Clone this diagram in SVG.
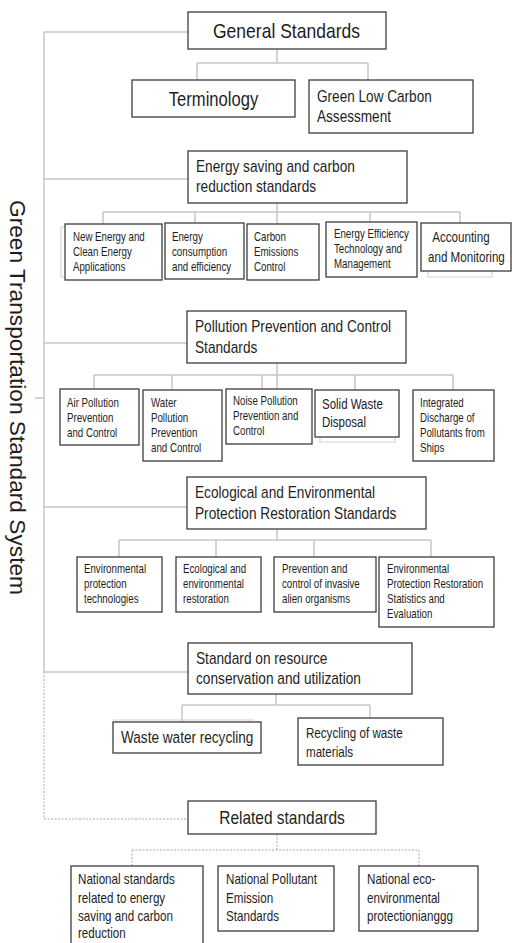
<svg xmlns="http://www.w3.org/2000/svg" width="512" height="943" viewBox="0 0 512 943">
<style>
.box{fill:#fff;stroke:#3c3c3c;stroke-width:1.3}
.conn{fill:none;stroke:#c6c6c6;stroke-width:1.5}
.dot{stroke-dasharray:2 1.5}
.faint{fill:none;stroke:#d4d4d4;stroke-width:1.2}
text{font-family:"Liberation Sans",Arial,sans-serif;fill:#1e1e1e}
.c{text-anchor:middle}
.s12{font-size:12px}.s14{font-size:14px}.s16{font-size:16px}
</style>
<rect width="512" height="943" fill="#fff"/>
<g id="connectors">
<path class="conn" d="M44,32V672M44,32H188M44,179H188M44,343H187M44,507H187M44,672H188M35,398H44"/>
<path class="conn dot" d="M44,672V819H188"/>
<path class="conn" d="M277,49V63M197,63H368M197,63V80M368,63V80"/>
<path class="conn" d="M277,203V224M103,212H460M103,212V224M195,212V223M370,212V222M460,212V223"/>
<path class="conn" d="M277,363V389M94,375H453M94,375V389M172,375V390M262,375V389M355,375V390M453,375V390"/>
<path class="conn" d="M277,529V540M119,540H431M119,540V557M216,540V557M314,540V557M431,540V557"/>
<path class="conn" d="M276,694V705M182,705H370M182,705V722M370,705V718"/>
<path class="conn dot" d="M277,834V850M132,850H419M132,850V866M419,850V866"/>
<path class="faint" d="M65,227H61V277H65M428,271V277H492V271M320,437V442H395V437M113,720H254"/>
</g>
<g id="title">
<text transform="translate(10,200) rotate(90)" font-size="22" textLength="395" lengthAdjust="spacingAndGlyphs">Green Transportation Standard System</text>
</g>
<g id="general">
<rect class="box" x="188" y="12" width="198" height="37"/>
<text class="c" font-size="20" transform="matrix(0.876 0 0 1 286.5 38)">General Standards</text>
</g>
<g id="terminology">
<rect class="box" x="132" y="80" width="163" height="37"/>
<text class="c" font-size="20" transform="matrix(0.83 0 0 1 213.5 106)">Terminology</text>
</g>
<g id="greenlowcarbon">
<rect class="box" x="309" y="80" width="164" height="53"/>
<text class="s16" transform="matrix(0.85 0 0 1 317 102)"><tspan x="0">Green Low Carbon</tspan><tspan x="0" dy="20">Assessment</tspan></text>
</g>
<g id="energy">
<rect class="box" x="188" y="151" width="219" height="52"/>
<text class="s16" transform="matrix(0.855 0 0 1 196 172)"><tspan x="0">Energy saving and carbon</tspan><tspan x="0" dy="20.5">reduction standards</tspan></text>
</g>
<g id="newenergy">
<rect class="box" x="65" y="224" width="97" height="56"/>
<text class="s12" transform="matrix(0.81 0 0 1 73 241)"><tspan x="0">New Energy and</tspan><tspan x="0" dy="15">Clean Energy</tspan><tspan x="0" dy="15">Applications</tspan></text>
</g>
<g id="consumption">
<rect class="box" x="165" y="223" width="79" height="56"/>
<text class="s12" transform="matrix(0.81 0 0 1 172 240.7)"><tspan x="0">Energy</tspan><tspan x="0" dy="15">consumption</tspan><tspan x="0" dy="15">and efficiency</tspan></text>
</g>
<g id="carbonemissions">
<rect class="box" x="247" y="224" width="72" height="56"/>
<text class="s12" transform="matrix(0.81 0 0 1 254 241)"><tspan x="0">Carbon</tspan><tspan x="0" dy="15">Emissions</tspan><tspan x="0" dy="15">Control</tspan></text>
</g>
<g id="efficiency">
<rect class="box" x="326" y="222" width="91" height="55"/>
<text class="s12" transform="matrix(0.81 0 0 1 334 238.3)"><tspan x="0">Energy Efficiency</tspan><tspan x="0" dy="15">Technology and</tspan><tspan x="0" dy="15">Management</tspan></text>
</g>
<g id="accounting">
<rect class="box" x="421" y="223" width="90" height="48"/>
<text class="s14" transform="matrix(0.83 0 0 1 428 241.7)"><tspan x="5">Accounting</tspan><tspan x="0" dy="20">and Monitoring</tspan></text>
</g>
<g id="pollution">
<rect class="box" x="187" y="311" width="219" height="52"/>
<text class="s16" transform="matrix(0.855 0 0 1 195 331.7)"><tspan x="0">Pollution Prevention and Control</tspan><tspan x="0" dy="21.6">Standards</tspan></text>
</g>
<g id="air">
<rect class="box" x="60" y="389" width="79" height="56"/>
<text class="s12" transform="matrix(0.81 0 0 1 67 406.7)"><tspan x="0">Air Pollution</tspan><tspan x="0" dy="15">Prevention</tspan><tspan x="0" dy="15">and Control</tspan></text>
</g>
<g id="water">
<rect class="box" x="143" y="390" width="79" height="71"/>
<text class="s12" transform="matrix(0.81 0 0 1 151 406.7)"><tspan x="0">Water</tspan><tspan x="0" dy="15">Pollution</tspan><tspan x="0" dy="15">Prevention</tspan><tspan x="0" dy="15">and Control</tspan></text>
</g>
<g id="noise">
<rect class="box" x="226" y="389" width="86" height="55"/>
<text class="s12" transform="matrix(0.81 0 0 1 233 405)"><tspan x="0">Noise Pollution</tspan><tspan x="0" dy="15">Prevention and</tspan><tspan x="0" dy="15">Control</tspan></text>
</g>
<g id="solidwaste">
<rect class="box" x="315" y="390" width="84" height="47"/>
<text class="s14" transform="matrix(0.82 0 0 1 322 409)"><tspan x="0">Solid Waste</tspan><tspan x="0" dy="18.3">Disposal</tspan></text>
</g>
<g id="ships">
<rect class="box" x="413" y="390" width="81" height="71"/>
<text class="s12" transform="matrix(0.81 0 0 1 420 406.7)"><tspan x="0">Integrated</tspan><tspan x="0" dy="15">Discharge of</tspan><tspan x="0" dy="15">Pollutants from</tspan><tspan x="0" dy="15">Ships</tspan></text>
</g>
<g id="ecological">
<rect class="box" x="187" y="477" width="239" height="52"/>
<text class="s16" transform="matrix(0.855 0 0 1 195 498.3)"><tspan x="0">Ecological and Environmental</tspan><tspan x="0" dy="21">Protection Restoration Standards</tspan></text>
</g>
<g id="envtech">
<rect class="box" x="77" y="557" width="85" height="55"/>
<text class="s12" transform="matrix(0.81 0 0 1 84 573)"><tspan x="0">Environmental</tspan><tspan x="0" dy="15">protection</tspan><tspan x="0" dy="15">technologies</tspan></text>
</g>
<g id="ecorestoration">
<rect class="box" x="176" y="557" width="85" height="55"/>
<text class="s12" transform="matrix(0.81 0 0 1 183 573)"><tspan x="0">Ecological and</tspan><tspan x="0" dy="15">environmental</tspan><tspan x="0" dy="15">restoration</tspan></text>
</g>
<g id="invasive">
<rect class="box" x="274" y="557" width="102" height="55"/>
<text class="s12" transform="matrix(0.81 0 0 1 282 573)"><tspan x="0">Prevention and</tspan><tspan x="0" dy="15">control of invasive</tspan><tspan x="0" dy="15">alien organisms</tspan></text>
</g>
<g id="statistics">
<rect class="box" x="379" y="557" width="115" height="70"/>
<text class="s12" transform="matrix(0.81 0 0 1 387 573)"><tspan x="0">Environmental</tspan><tspan x="0" dy="15">Protection Restoration</tspan><tspan x="0" dy="15">Statistics and</tspan><tspan x="0" dy="15">Evaluation</tspan></text>
</g>
<g id="resource">
<rect class="box" x="188" y="643" width="224" height="51"/>
<text class="s16" transform="matrix(0.855 0 0 1 196 664)"><tspan x="0">Standard on resource</tspan><tspan x="0" dy="20.3">conservation and utilization</tspan></text>
</g>
<g id="wastewater">
<rect class="box" x="113" y="722" width="148" height="31"/>
<text font-size="17" transform="matrix(0.8 0 0 1 121 743.3)">Waste water recycling</text>
</g>
<g id="wastematerials">
<rect class="box" x="298" y="718" width="145" height="47"/>
<text font-size="14.5" transform="matrix(0.8 0 0 1 306 738.3)"><tspan x="0">Recycling of waste</tspan><tspan x="0" dy="18.4">materials</tspan></text>
</g>
<g id="related">
<rect class="box" x="188" y="801" width="188" height="33"/>
<text class="c" font-size="18" transform="matrix(0.86 0 0 1 282 824)">Related standards</text>
</g>
<g id="national-energy">
<rect class="box" x="71" y="866" width="132" height="90"/>
<text class="s14" transform="matrix(0.83 0 0 1 78 884.3)"><tspan x="0">National standards</tspan><tspan x="0" dy="18.3">related to energy</tspan><tspan x="0" dy="18.3">saving and carbon</tspan><tspan x="0" dy="17.4">reduction</tspan></text>
</g>
<g id="national-pollutant">
<rect class="box" x="218" y="866" width="116" height="65"/>
<text class="s14" transform="matrix(0.83 0 0 1 226 884.3)"><tspan x="0">National Pollutant</tspan><tspan x="0" dy="18.3">Emission</tspan><tspan x="0" dy="18.3">Standards</tspan></text>
</g>
<g id="national-eco">
<rect class="box" x="359" y="866" width="119" height="65"/>
<text class="s14" transform="matrix(0.83 0 0 1 367 884.3)"><tspan x="0">National eco-</tspan><tspan x="0" dy="18.3">environmental</tspan><tspan x="0" dy="18.3">protectionianggg</tspan></text>
</g>
</svg>
